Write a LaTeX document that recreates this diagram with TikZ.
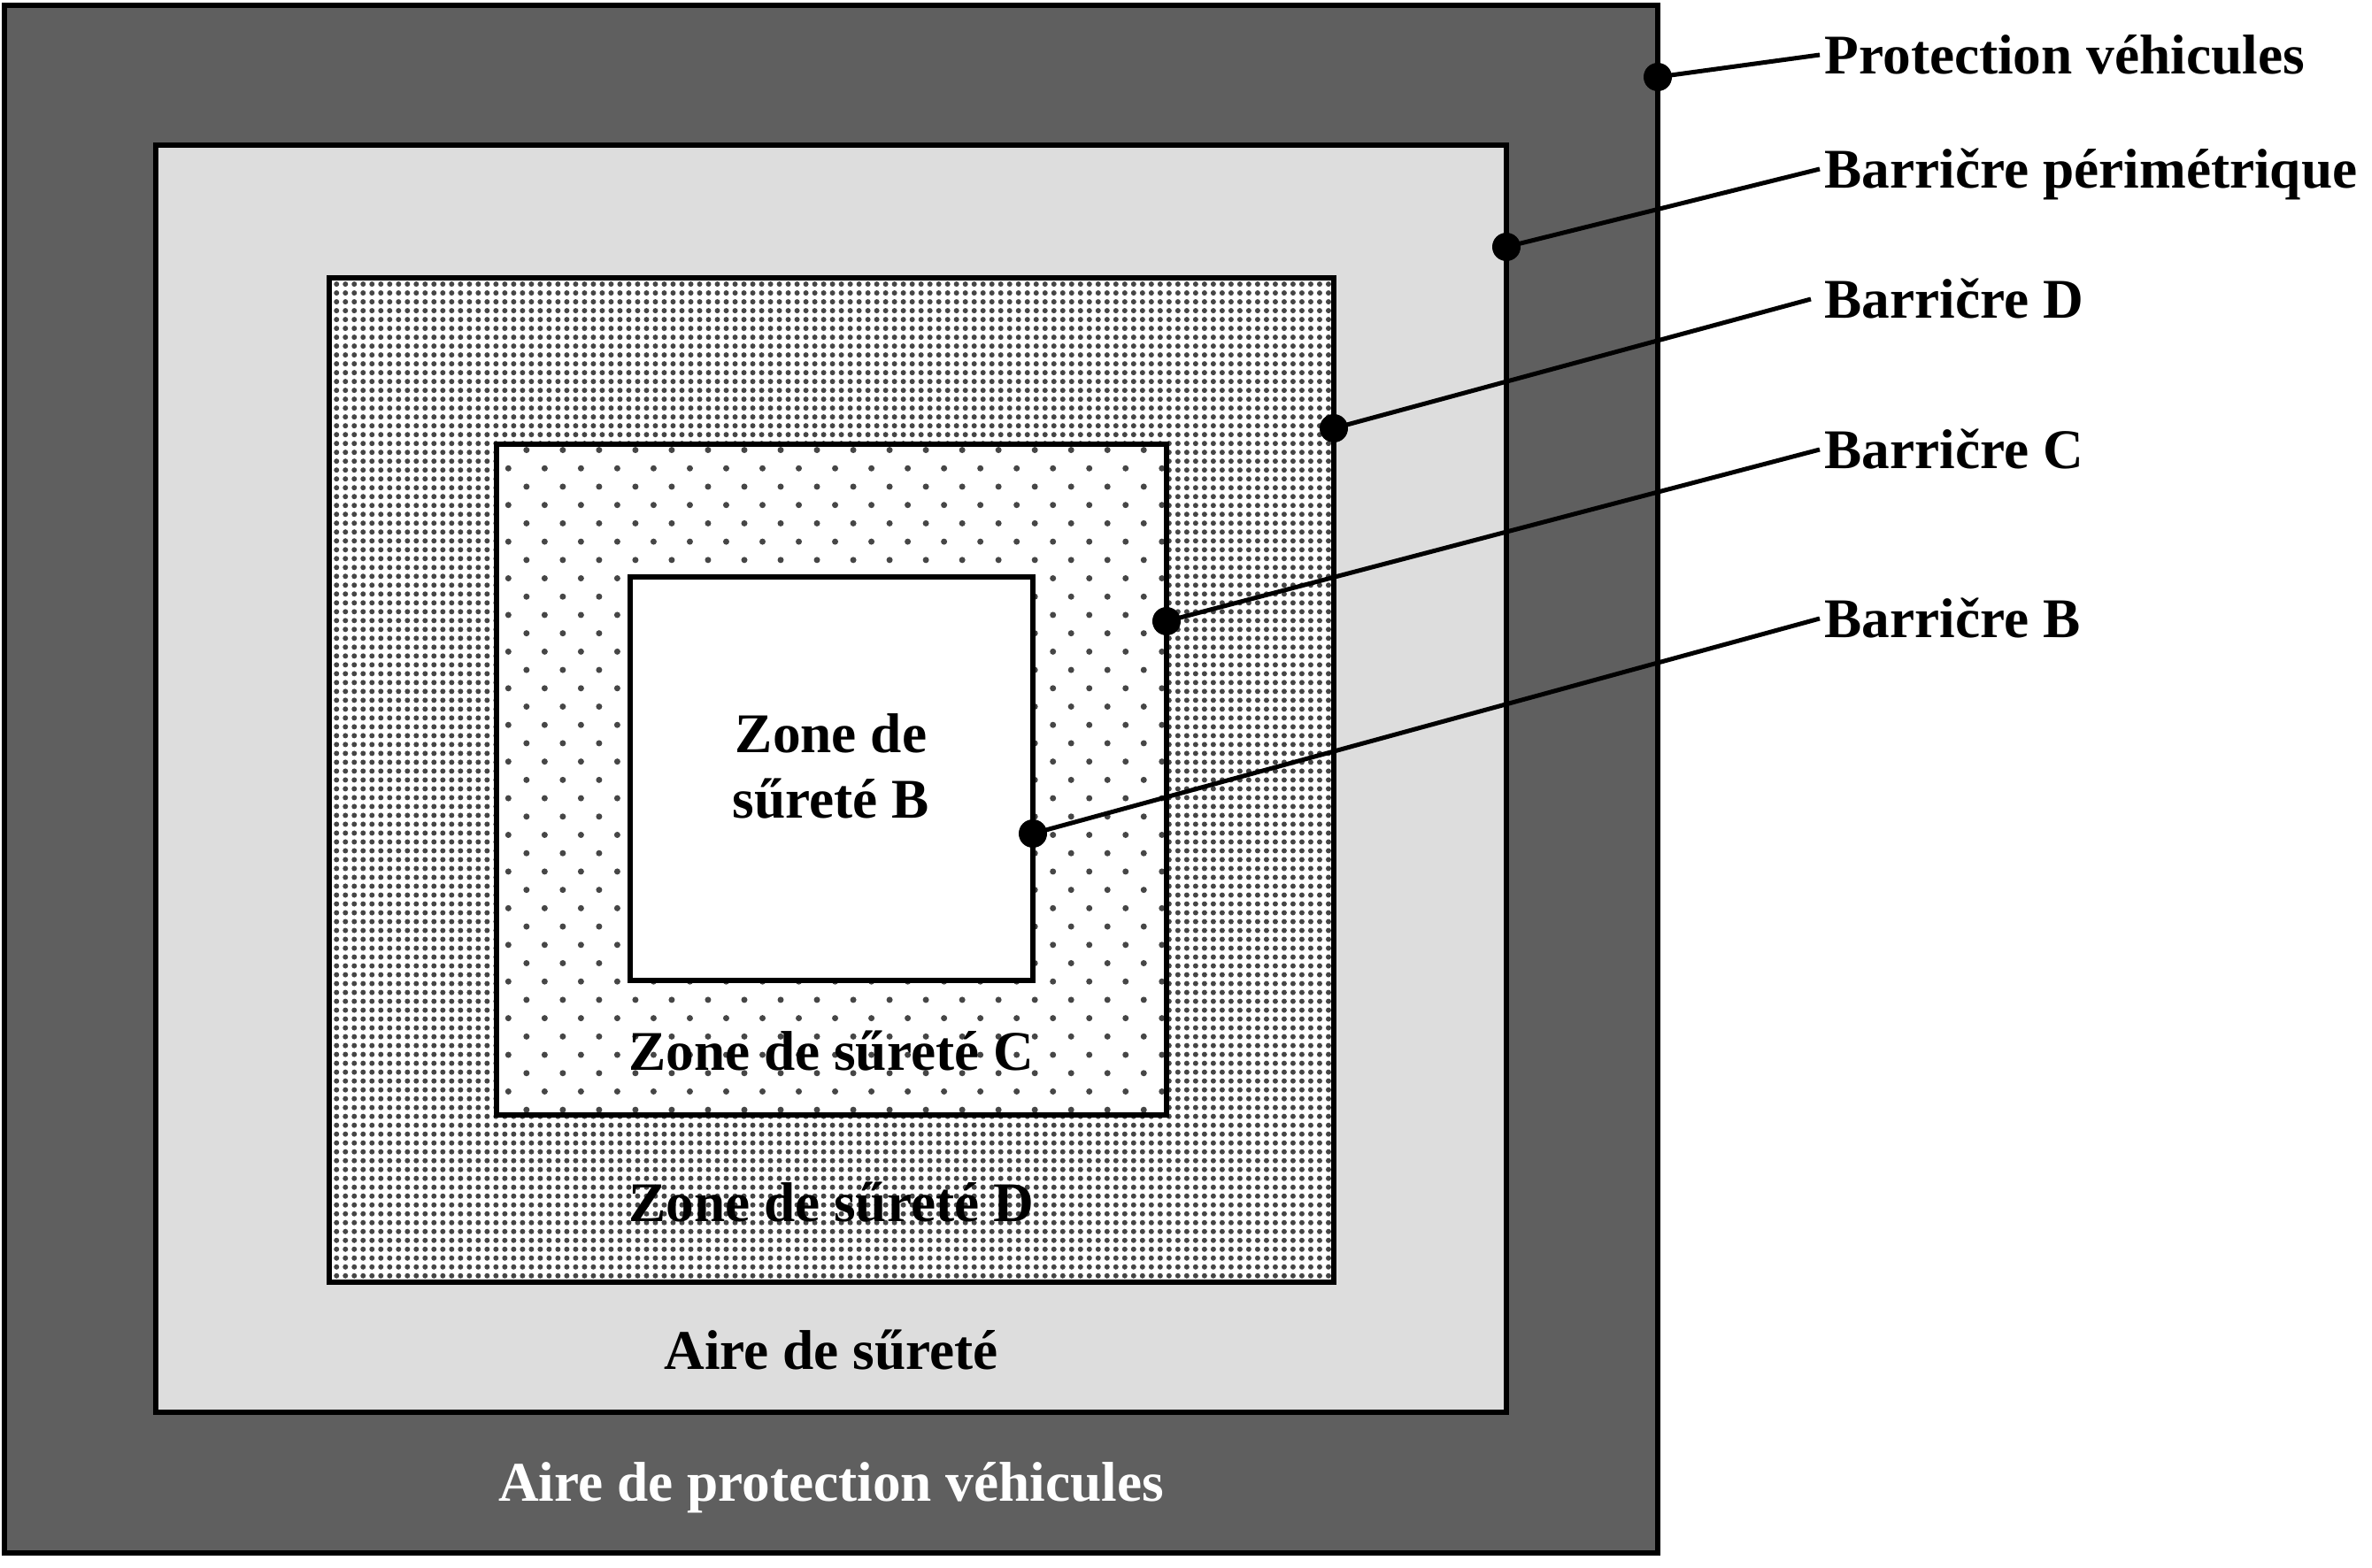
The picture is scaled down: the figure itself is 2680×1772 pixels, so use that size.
\documentclass[tikz,border=0pt]{standalone}
\usepackage{fontspec}
\setmainfont{Liberation Serif}
\usepackage{tikz}
\usetikzlibrary{patterns.meta}
\definecolor{vehiclegray}{RGB}{95,95,95}
\definecolor{areagray}{RGB}{221,221,221}
\definecolor{dotgray}{RGB}{70,70,70}

\tikzdeclarepattern{name=densedots, type=uncolored,
  bottom left={(-.045cm,-.045cm)}, top right={(.045cm,.045cm)},
  tile size={(.1cm,.1cm)},
  code={\pgfpathcircle{\pgfpointorigin}{.03cm}\pgfusepath{fill}}}
\tikzdeclarepattern{name=sparsedots, type=uncolored,
  bottom left={(-.05cm,-.05cm)}, top right={(.26cm,.26cm)},
  tile size={(.41cm,.414cm)},
  code={\pgfpathcircle{\pgfpointorigin}{.035cm}\pgfpathcircle{\pgfpoint{.205cm}{.207cm}}{.035cm}\pgfusepath{fill}}}

\begin{document}
\begin{tikzpicture}[
    x=0.01cm, y=-0.01cm,
    zone/.style={draw, line width=0.06cm},
    ztext/.style={font=\fontsize{18}{21}\selectfont\bfseries, align=center, inner sep=0pt},
    lbl/.style={font=\fontsize{18}{21}\selectfont\bfseries, anchor=west, inner sep=0.05cm, text height=0.42cm, text depth=0pt},
    marker/.style={circle, fill, inner sep=0pt, minimum size=0.32cm},
    leader/.style={line width=0.05cm}
]
\useasboundingbox (0,0) rectangle (2680,1772);

% === ZONES (outside in) ===
\draw[zone, fill=vehiclegray] (5,6) rectangle (1873,1755);
\draw[zone, fill=areagray] (176,164) rectangle (1702,1596);
\draw[zone, preaction={fill=white}, pattern=densedots, pattern color=dotgray] (372,314) rectangle (1507,1449);
\draw[zone, preaction={fill=white}, pattern=sparsedots, pattern color=dotgray] (561,502) rectangle (1318,1260);
\draw[zone, fill=white] (712,652) rectangle (1167,1108);

% === ZONE TEXTS ===
\node[ztext] (zoneB) at (939,866) {Zone de\\sűreté B};
\node[ztext, anchor=base] (zoneC) at (939,1209) {Zone de sűreté C};
\node[ztext, anchor=base] (zoneD) at (939,1380) {Zone de sűreté D};
\node[ztext, anchor=base] (aire) at (939,1547) {Aire de sűreté};
\node[ztext, anchor=base, text=white] (aireveh) at (939,1696) {Aire de protection véhicules};

% === BARRIER LABELS ===
\node[lbl] (lVeh) at (2056,62) {Protection véhicules};
\node[lbl] (lPer) at (2056,191) {Barričre périmétrique};
\node[lbl, inner xsep=0.15cm] (lD) at (2046,338) {Barričre D};
\node[lbl] (lC) at (2056,508) {Barričre C};
\node[lbl] (lB) at (2056,699) {Barričre B};

\node[marker] (mVeh) at (1873,87) {};
\node[marker] (mPer) at (1702,279) {};
\node[marker] (mD) at (1507,484) {};
\node[marker] (mC) at (1318,702) {};
\node[marker] (mB) at (1167,942) {};

% === LEADERS ===
\draw[leader] (mVeh.center) -- (lVeh.west);
\draw[leader] (mPer.center) -- (lPer.west);
\draw[leader] (mD.center) -- (lD.west);
\draw[leader] (mC.center) -- (lC.west);
\draw[leader] (mB.center) -- (lB.west);

\end{tikzpicture}
\end{document}
